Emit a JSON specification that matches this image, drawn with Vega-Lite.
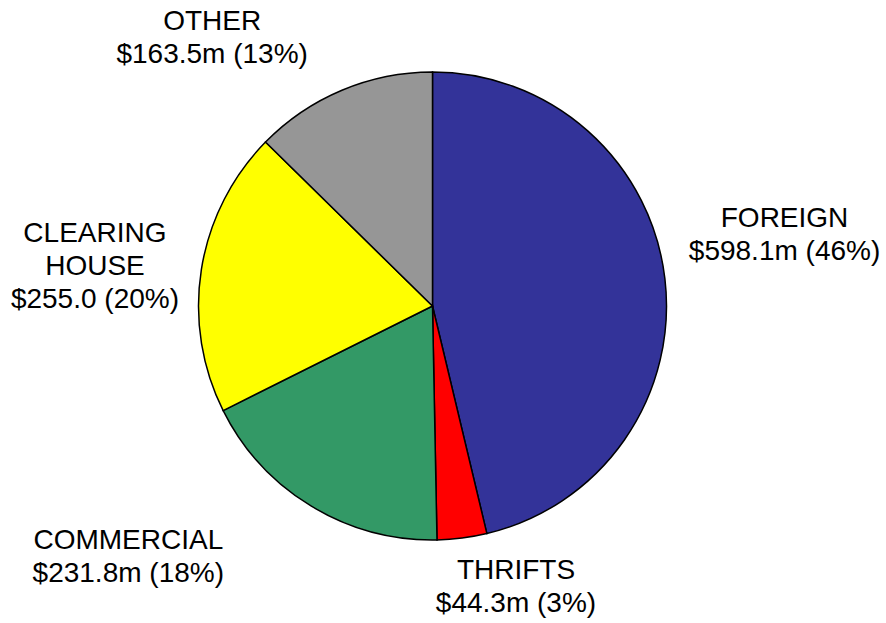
{
  "$schema": "https://vega.github.io/schema/vega-lite/v6.json",
  "width": 865,
  "height": 612,
  "autosize": {"type": "none"},
  "padding": {"left": 0, "top": 0, "right": 21, "bottom": 11},
  "background": "white",
  "view": {"stroke": null},
  "data": {"values": [
    {"i": 1, "category": "FOREIGN", "value": 598.1, "label": "FOREIGN\n$598.1m (46%)"},
    {"i": 2, "category": "THRIFTS", "value": 44.3, "label": "THRIFTS\n$44.3m (3%)"},
    {"i": 3, "category": "COMMERCIAL", "value": 231.8, "label": "COMMERCIAL\n$231.8m (18%)"},
    {"i": 4, "category": "CLEARING HOUSE", "value": 255.0, "label": "CLEARING\nHOUSE\n$255.0 (20%)"},
    {"i": 5, "category": "OTHER", "value": 163.5, "label": "OTHER\n$163.5m (13%)"}
  ]},
  "encoding": {
    "theta": {"field": "value", "type": "quantitative", "stack": true},
    "order": {"field": "i", "type": "quantitative"},
    "detail": {"field": "category", "type": "nominal"}
  },
  "layer": [
    {
      "mark": {"type": "arc", "radius": 234, "stroke": "black", "strokeWidth": 1.5},
      "encoding": {
        "color": {
          "field": "category", "type": "nominal", "legend": null,
          "scale": {
            "domain": ["FOREIGN", "THRIFTS", "COMMERCIAL", "CLEARING HOUSE", "OTHER"],
            "range": ["#333399", "#FF0000", "#339966", "#FFFF00", "#969696"]
          }
        }
      }
    },
    {
      "mark": {"type": "text", "radius": 358.5, "dx": -4, "dy": -45, "font": "Liberation Sans", "fontSize": 28, "lineBreak": "\n", "lineHeight": 33, "align": "center", "baseline": "middle", "color": "black"},
      "encoding": {"text": {"condition": {"test": "datum.category === 'FOREIGN'", "field": "label"}, "value": ""}}
    },
    {
      "mark": {"type": "text", "radius": 288.4, "dx": 47, "dy": -21, "font": "Liberation Sans", "fontSize": 28, "lineBreak": "\n", "lineHeight": 33, "align": "center", "baseline": "middle", "color": "black"},
      "encoding": {"text": {"condition": {"test": "datum.category === 'THRIFTS'", "field": "label"}, "value": ""}}
    },
    {
      "mark": {"type": "text", "radius": 373.2, "dx": -111, "dy": -84, "font": "Liberation Sans", "fontSize": 28, "lineBreak": "\n", "lineHeight": 33, "align": "center", "baseline": "middle", "color": "black"},
      "encoding": {"text": {"condition": {"test": "datum.category === 'COMMERCIAL'", "field": "label"}, "value": ""}}
    },
    {
      "mark": {"type": "text", "radius": 339.7, "dx": -2, "dy": -19, "font": "Liberation Sans", "fontSize": 28, "lineBreak": "\n", "lineHeight": 33, "align": "center", "baseline": "middle", "color": "black"},
      "encoding": {"text": {"condition": {"test": "datum.category === 'CLEARING HOUSE'", "field": "label"}, "value": ""}}
    },
    {
      "mark": {"type": "text", "radius": 334.3, "dx": -91, "dy": 24, "font": "Liberation Sans", "fontSize": 28, "lineBreak": "\n", "lineHeight": 33, "align": "center", "baseline": "middle", "color": "black"},
      "encoding": {"text": {"condition": {"test": "datum.category === 'OTHER'", "field": "label"}, "value": ""}}
    }
  ]
}
